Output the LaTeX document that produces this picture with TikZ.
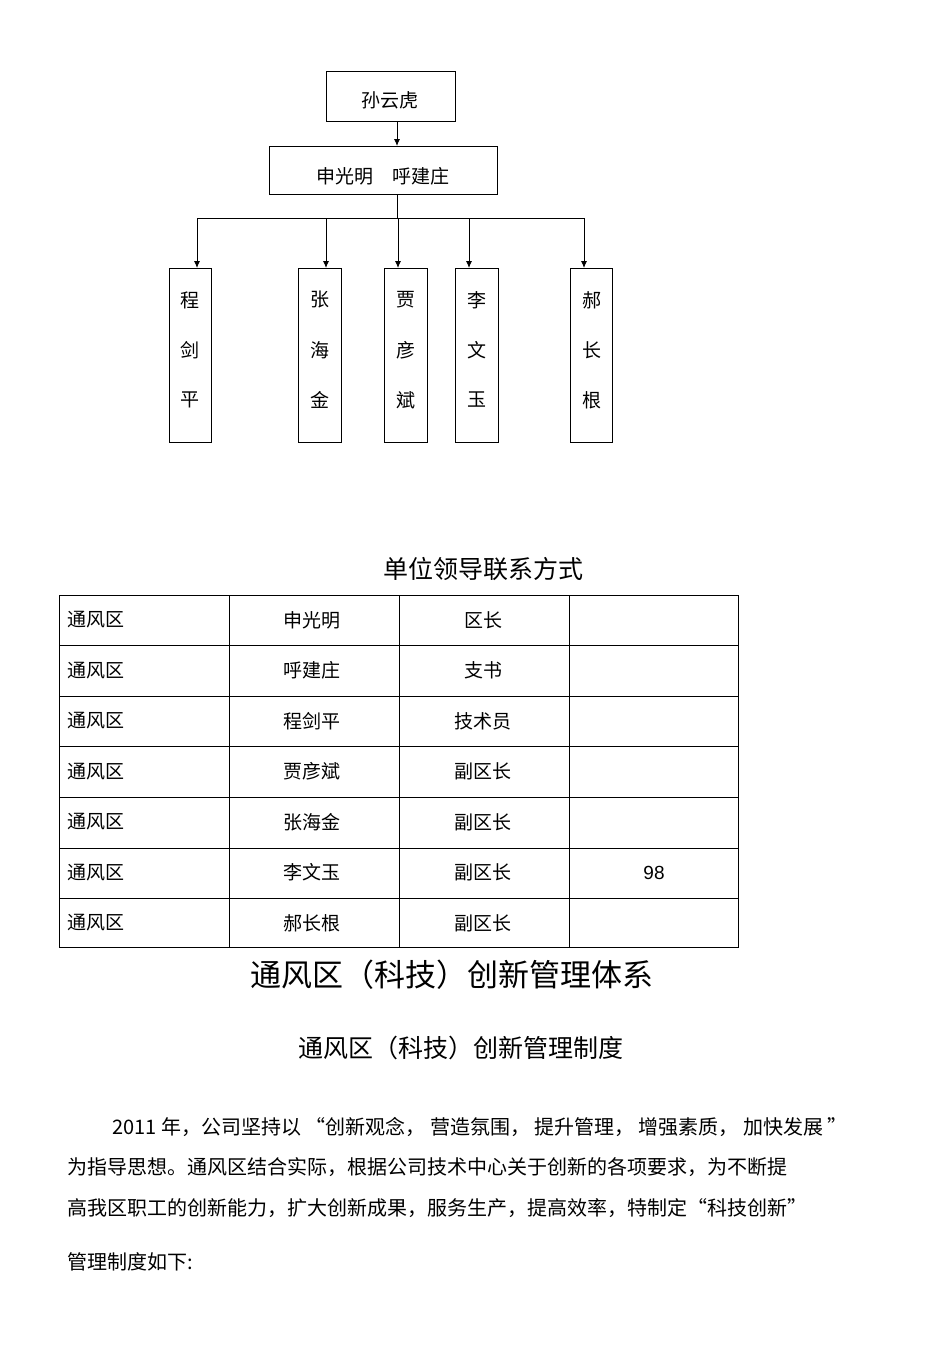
\documentclass[tikz,border=0pt]{standalone}
\usepackage{fontspec}
\setmainfont{Noto Sans CJK SC}
\usetikzlibrary{arrows.meta}
\begin{document}
\begin{tikzpicture}[x=1pt,y=-1pt,
  box/.style={draw,line width=0.9pt},
  arr/.style={line width=0.9pt,-{Latex[length=7pt,width=6pt]}},
  t/.style={font=\fontsize{19}{19}\selectfont,inner sep=0pt},
  p/.style={font=\fontsize{20}{20}\selectfont,inner sep=0pt,anchor=west}]
\useasboundingbox (0,0) rectangle (950,1345);
% org chart
\draw[box] (326,71) rectangle (455,121);
\node[t] (top) at (390,100) {孙云虎};
\draw[box] (269,146) rectangle (497,194);
\node[t] (mid) at (383,176) {申光明\quad 呼建庄};
\coordinate (a1) at (397,121); \coordinate (a2) at (397,146);
\draw[arr] (a1) -- (a2);
\coordinate (b1) at (397,194); \coordinate (b2) at (397,218);
\draw[line width=0.9pt] (b1) -- (b2);
\coordinate (hl) at (197,218); \coordinate (hr) at (584,218);
\draw[line width=0.9pt] (hl) -- (hr);
\foreach \ax/\bl/\br/\n/\c in {197/169/211/程剑平/190,326/298/341/张海金/320,398/384/427/贾彦斌/406,469/455/498/李文玉/477,584/570/612/郝长根/592}{
  \draw[arr] (\ax,218) -- (\ax,268);
  \draw[box] (\bl,268) rectangle (\br,442);
}
\foreach \c/\s in {190/{程,剑,平},320/{张,海,金},406/{贾,彦,斌},477/{李,文,玉},592/{郝,长,根}}{
  \foreach \ch [count=\i] in \s {\node[t] at (\c,250+50*\i) {\ch};}
}
% table title
\node[font=\fontsize{25}{25}\selectfont,inner sep=0pt] (tt) at (483,569) {单位领导联系方式};
\draw[line width=0.8pt] (59,595) rectangle (738,947);
\foreach \x in {229,399,569} \draw[line width=0.8pt] (\x,595) -- (\x,947);
\foreach \y in {645,696,746,797,848,898} \draw[line width=0.8pt] (59,\y) -- (738,\y);
\foreach \n/\r [count=\i] in {申光明/区长,呼建庄/支书,程剑平/技术员,贾彦斌/副区长,张海金/副区长,李文玉/副区长,郝长根/副区长}{
  \pgfmathsetmacro\yy{620+50.5*(\i-1)}
  \node[t,anchor=west] at (67,\yy) {通风区};
  \node[t] at (312,\yy) {\n};
  \node[t] at (483,\yy) {\r};
}
\node[font=\fontsize{19}{19}\selectfont\fontspec{Liberation Sans},inner sep=0pt] at (654,873) {98};
% headings
\node[font=\fontsize{31}{31}\selectfont,inner sep=0pt] (h1) at (452,975) {通风区（科技）创新管理体系};
\node[font=\fontsize{25}{25}\selectfont,inner sep=0pt] (h2) at (461,1048) {通风区（科技）创新管理制度};
% paragraph
\node[p] at (112,1127) {2011 年，公司坚持以 “创新观念， 营造氛围， 提升管理， 增强素质， 加快发展 ”};
\node[p] at (67,1167) {为指导思想。通风区结合实际，根据公司技术中心关于创新的各项要求，为不断提};
\node[p] at (67,1208) {高我区职工的创新能力，扩大创新成果，服务生产，提高效率，特制定“科技创新”};
\node[p] at (67,1262) {管理制度如下:};
\end{tikzpicture}
\end{document}
